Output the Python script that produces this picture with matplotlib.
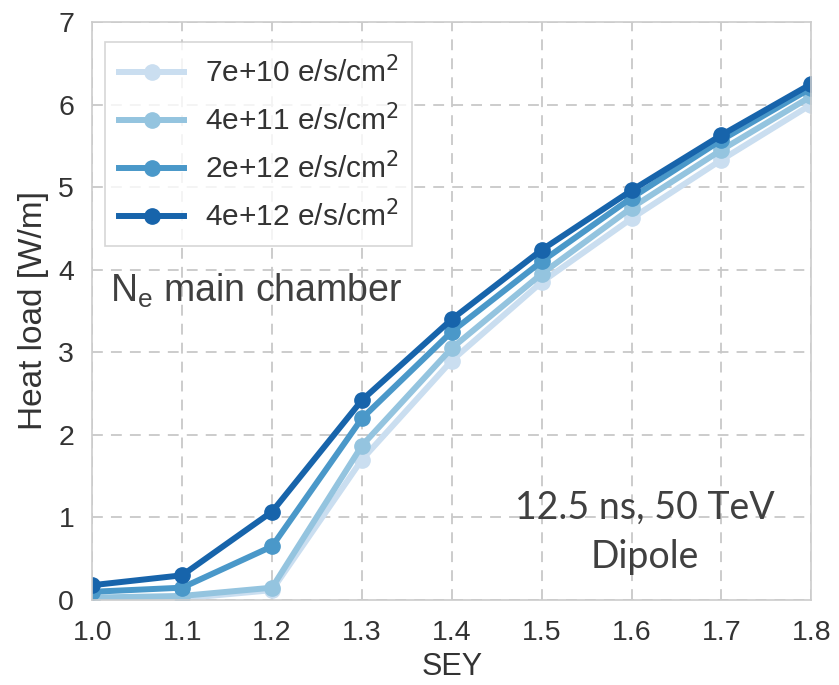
import matplotlib
matplotlib.use("Agg")
import matplotlib.pyplot as plt

# Secondary electron yield scan
sey = [1.0, 1.1, 1.2, 1.3, 1.4, 1.5, 1.6, 1.7, 1.8]

# Heat load [W/m] for each primary electron flux
hl_7e10 = [0.00, 0.02, 0.12, 1.70, 2.90, 3.85, 4.62, 5.33, 6.00]
hl_4e11 = [0.03, 0.05, 0.15, 1.87, 3.05, 3.95, 4.75, 5.45, 6.10]
hl_2e12 = [0.10, 0.15, 0.65, 2.20, 3.25, 4.10, 4.87, 5.57, 6.20]
hl_4e12 = [0.18, 0.30, 1.07, 2.42, 3.40, 4.24, 4.96, 5.63, 6.25]

labels = ["7e+10 e/s/cm$^2$", "4e+11 e/s/cm$^2$",
          "2e+12 e/s/cm$^2$", "4e+12 e/s/cm$^2$"]
colors = ["#cadef0", "#94c4df", "#4a98c9", "#1764ab"]

plt.rcParams["font.family"] = ["Liberation Sans", "DejaVu Sans"]

fig = plt.figure(figsize=(8.39, 6.85), dpi=100)
ax = fig.add_axes([0.110, 0.124, 0.857, 0.844])

for y, lab, c in zip([hl_7e10, hl_4e11, hl_2e12, hl_4e12], labels, colors):
    ax.plot(sey, y, "-o", color=c, lw=4.3, ms=11, label=lab)

ax.set_xlim(1.0, 1.8)
ax.set_ylim(0, 7)
ax.set_xticks(sey)
ax.set_xticklabels([f"{v:.1f}" for v in sey])
ax.set_yticks(range(8))

ax.grid(True, ls=(0, (6, 4.5)), color="#c8c8c8", lw=1.3)
ax.set_axisbelow(True)
for s in ax.spines.values():
    s.set_color("#cccccc")
    s.set_linewidth(1.2)
ax.tick_params(length=0, labelsize=20.5, colors="#333333")
ax.tick_params(axis="x", pad=14)
ax.tick_params(axis="y", pad=13)

ax.set_xlabel("SEY", fontsize=22, color="#333333", labelpad=5)
ax.set_ylabel("Heat load [W/m]", fontsize=24, color="#333333", labelpad=7)

leg = ax.legend(loc="upper left", fontsize=21.5, frameon=True, fancybox=False,
                handlelength=2.2, handletextpad=0.7, borderpad=0.45,
                labelspacing=0.52, borderaxespad=0,
                bbox_to_anchor=(0.018, 0.965))
leg.get_frame().set_edgecolor("#cccccc")
leg.get_frame().set_linewidth(1.2)
for t in leg.get_texts():
    t.set_color("#333333")

ax.text(0.024, 0.535, "N$_\\mathregular{e}$ main chamber", transform=ax.transAxes,
        fontsize=27, color="#404040", ha="left", va="center")

ax.text(0.768, 0.117, "12.5 ns, 50 TeV\nDipole", transform=ax.transAxes,
        fontsize=27, color="#404040", ha="center", va="center",
        family=["Lato", "DejaVu Sans"], linespacing=1.45)

fig.savefig("out.png", dpi=100)
